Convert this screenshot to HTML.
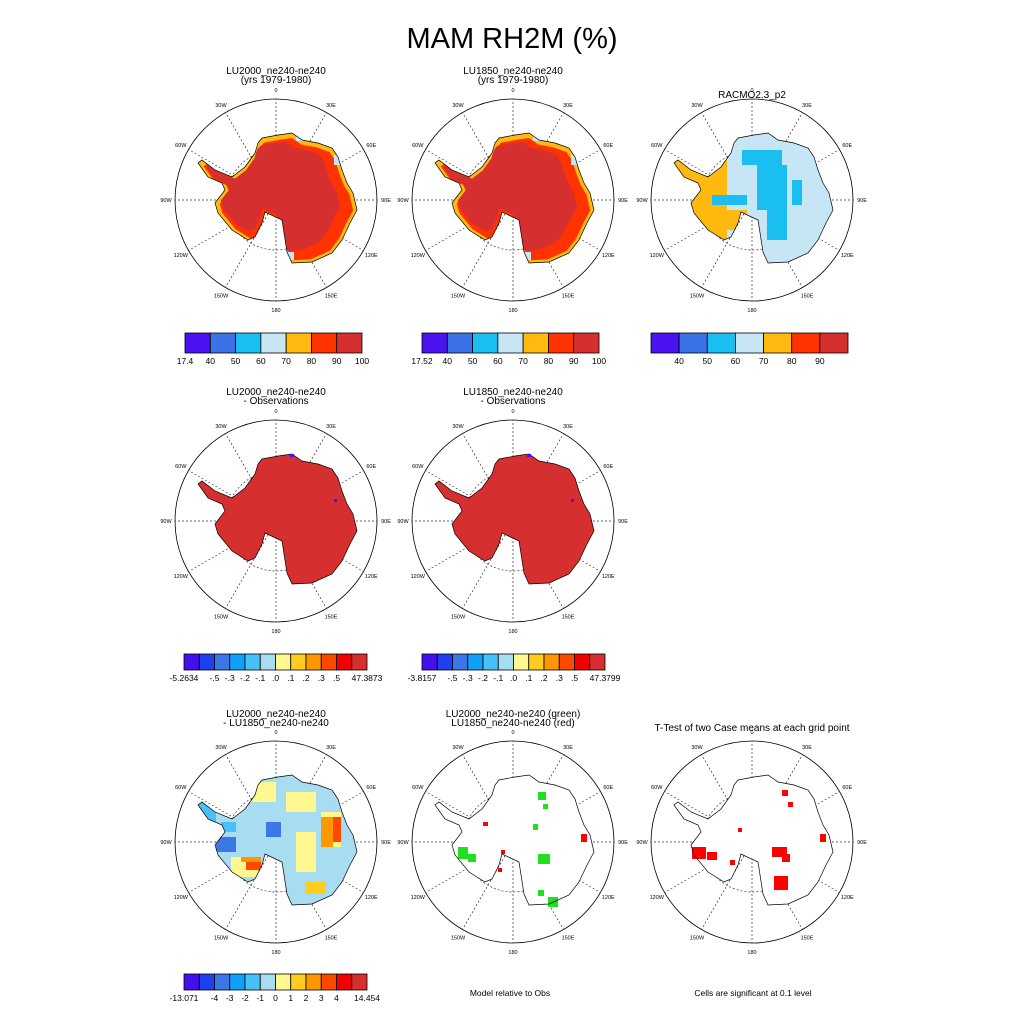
<!DOCTYPE html>
<html><head><meta charset="utf-8"><style>
body{margin:0;background:#fff;}
svg text{font-family:"Liberation Sans",sans-serif;}
</style></head><body>
<svg id="fig" width="1024" height="1024" viewBox="0 0 1024 1024" xmlns="http://www.w3.org/2000/svg">
<defs>
<path id="ant" d="M-14,-62 L2,-65 L16,-67 L26,-60 L42,-57 L56,-52 L62,-43 L66,-30 L71,-17 L77,-7 L81,10 L74,23 L66,40 L56,53 L36,62 L16,63 L11,52 L6,20 L-11,12 L-14,23 L-21,37 L-28,40 L-44,30 L-58,13 L-61,3 L-51,-10 L-54,-17 L-68,-23 L-78,-37 L-74,-40 L-61,-30 L-44,-23 L-31,-33 L-21,-47 L-18,-57 Z"/>
<clipPath id="antclip"><use href="#ant"/></clipPath>
</defs>
<text x="512" y="48" font-size="29" text-anchor="middle">MAM RH2M (%)</text>
</svg>
<script>
const NS="http://www.w3.org/2000/svg";
const fig=document.getElementById('fig');
function mk(tag,attrs,parent){const e=document.createElementNS(NS,tag);for(const k in attrs)e.setAttribute(k,attrs[k]);(parent||fig).appendChild(e);return e;}
const colCenters=[276,513,752];
const rowCenters=[200,521,842];
const R=101;
const lonLabels=["0","30E","60E","90E","120E","150E","180","150W","120W","90W","60W","30W"];
const panelTitles=[
 ["LU2000_ne240-ne240","(yrs 1979-1980)"],["LU1850_ne240-ne240","(yrs 1979-1980)"],["RACMO2.3_p2",""],
 ["LU2000_ne240-ne240","- Observations"],["LU1850_ne240-ne240","- Observations"],null,
 ["LU2000_ne240-ne240","- LU1850_ne240-ne240"],["LU2000_ne240-ne240 (green)","LU1850_ne240-ne240 (red)"],["T-Test of two Case means at each grid point",""]
];
// colorbar data
const cb1Colors=["#4a12f0","#3a72e8","#18bff0","#c6e6f5","#ffb90f","#ff3300","#d62f2f"];
const cb1aLabels=["17.4","40","50","60","70","80","90","100"];
const cb1bLabels=["17.52","40","50","60","70","80","90","100"];
const cb1cLabels=["","40","50","60","70","80","90",""];
const cb2Colors=["#4410f0","#2040f0","#3a78e8","#10a0f8","#48c0f8","#a8dcf0","#fff890","#ffcc20","#ff9800","#ff4800","#f00000","#d62f2f"];
const cb2aLabels=["-5.2634","-.5","-.3","-.2","-.1",".0",".1",".2",".3",".5","47.3873"];
const cb2bLabels=["-3.8157","-.5","-.3","-.2","-.1",".0",".1",".2",".3",".5","47.3799"];
const cb3Labels=["-13.071","-4","-3","-2","-1","0","1","2","3","4","14.454"];
const cb2Bounds=[0,2,3,4,5,6,7,8,9,10,12];

function panel(i){
 const r=Math.floor(i/3),c=i%3;
 const cx=colCenters[c],cy=rowCenters[r];
 const g=mk('g',{transform:`translate(${cx},${cy})`});
 
 
 return g;
}
function grid(g){
 mk('circle',{cx:0,cy:0,r:R,fill:'none',stroke:'#000','stroke-width':0.8},g);
 mk('circle',{cx:0,cy:0,r:50,fill:'none',stroke:'#333','stroke-width':0.7,'stroke-dasharray':'2,2'},g);
 for(let k=0;k<12;k++){
  const a=k*30*Math.PI/180;
  const sx=Math.sin(a),sy=-Math.cos(a);
  mk('line',{x1:0,y1:0,x2:sx*R,y2:sy*R,stroke:'#333','stroke-width':0.7,'stroke-dasharray':'2,2'},g);
  const t=mk('text',{x:sx*(R+9),y:sy*(R+9)+2,'font-size':5.5,'text-anchor':'middle'},g);
  t.textContent=lonLabels[k];
  
  
 }
}
function cont(g,fill){mk('use',{href:'#ant',fill:fill,stroke:'none'},g);}
function outline(g){mk('use',{href:'#ant',fill:'none',stroke:'#000','stroke-width':0.7},g);}
function clipG(g){return mk('g',{'clip-path':'url(#antclip)'},g);}
function blob(g,tx,ty,s,fill){mk('use',{href:'#ant',fill:fill,transform:`translate(${tx},${ty}) scale(${s})`},g);}
function rects(g,list,fill){list.forEach(p=>mk('rect',{x:p[0],y:p[1],width:p[2],height:p[3],fill:fill},g));}
function titles(i){
 const t=panelTitles[i];if(!t)return;
 const r=Math.floor(i/3),c=i%3;const cx=colCenters[c];
 const y0=[74,395,717][r];
 const single=(t[1]==="");
 const yy=(i===2)?98:(i===8?731:y0);
 const a=mk('text',{x:cx,y:yy,'font-size':10,'text-anchor':'middle'});
 a.textContent=t[0];
 
 
 if(!single){const b=mk('text',{x:cx,y:y0+9,'font-size':10,'text-anchor':'middle'});b.textContent=t[1];
 
 }
}
function colorbar(x0,w,y,h,colors,labels,ly,bounds){
 const g=mk('g',{});
 
 
 const bw=w/colors.length;
 colors.forEach((col,k)=>mk('rect',{x:x0+k*bw,y:y,width:bw,height:h,fill:col,stroke:'#000','stroke-width':0.8},g));
 labels.forEach((l,k)=>{
  const xx=x0+(bounds?bounds[k]:k)*bw;
  const t=mk('text',{x:xx,y:ly,'font-size':8.5,'text-anchor':'middle'},g);
  t.textContent=l;
  
  
 });
}
// Panels 1 & 2 (row 1)
[0,1].forEach(i=>{const g=panel(i);grid(g);cont(g,'#ffb90f');const cg=clipG(g);
 blob(cg,1,1,0.94,'#ff3300');blob(cg,-4,-2,0.84,'#d62f2f');
 rects(cg,[[20,-67,15,8],[58,-45,8,10],[12,52,6,8]],'#c6e6f5');outline(g);titles(i);});
// Panel 3 RACMO
{const g=panel(2);grid(g);cont(g,'#c6e6f5');const cg=clipG(g);
 rects(cg,[[-90,-50,65,95]],'#ffb90f');rects(cg,[[-25,10,20,20]],'#ffb90f');
 rects(cg,[[-10,-50,40,15],[5,-35,30,45],[-40,-5,35,10],[15,10,20,30],[40,-20,10,25]],'#18bff0');
 outline(g);titles(2);}
// Row 2
[3,4].forEach(i=>{const g=panel(i);grid(g);cont(g,'#d62f2f');outline(g);
 rects(g,[[14,-67,4,3],[58,-22,3,3]],'#4a12f0');titles(i);});
// Row 3 col1 diff
{const g=panel(6);grid(g);cont(g,'#a8dcf0');const cg=clipG(g);
 rects(cg,[[-40,-60,40,20],[10,-50,30,20],[45,-30,20,35],[-45,15,30,20],[20,-10,20,40],[-20,25,25,20]],'#fff890');
 rects(cg,[[-60,-5,20,15],[-10,-20,15,15]],'#3a78e8');
 rects(cg,[[-80,-40,20,20],[-55,-20,15,10]],'#48c0f8');
 rects(cg,[[55,-25,10,25],[-30,20,15,8]],'#ff4800');
 rects(cg,[[45,-25,12,30],[-35,15,20,5]],'#ff9800');
 rects(cg,[[-20,35,20,12],[30,40,20,12]],'#ffcc20');
 outline(g);titles(6);}
// Row 3 col2
{const g=panel(7);grid(g);cont(g,'#fff');
 rects(g,[[25,-50,8,8],[30,-38,5,5],[20,-18,5,6],[-55,5,10,12],[-45,12,8,8],[25,12,12,10],[35,55,10,10],[25,48,6,6]],'#20e020');
 rects(g,[[-30,-20,5,4],[-12,8,4,4],[68,-8,6,8],[-15,26,4,4]],'#ff0000');
 outline(g);titles(7);}
// Row 3 col3
{const g=panel(8);grid(g);cont(g,'#fff');
 rects(g,[[30,-52,6,6],[36,-40,5,5],[-60,5,14,12],[-45,10,10,8],[20,5,15,10],[30,12,8,8],[22,34,14,14],[68,-8,6,8],[-14,-14,4,4],[-22,18,5,5]],'#ff0000');
 outline(g);titles(8);}
// Colorbars
colorbar(185,177,333,20,cb1Colors,cb1aLabels,364,null);
colorbar(422,177,333,20,cb1Colors,cb1bLabels,364,null);
colorbar(651,197,333,20,cb1Colors,cb1cLabels,364,null);
colorbar(184,183,654,16,cb2Colors,cb2aLabels,681,cb2Bounds);
colorbar(422,183,654,16,cb2Colors,cb2bLabels,681,cb2Bounds);
colorbar(184,183,974,16,cb2Colors,cb3Labels,1001,cb2Bounds);
{const t=mk('text',{x:510,y:996,'font-size':8.5,'text-anchor':'middle'});t.textContent='Model relative to Obs';

}
{const t=mk('text',{x:753,y:996,'font-size':8.5,'text-anchor':'middle'});t.textContent='Cells are significant at 0.1 level';

}
</script>
</body></html>
